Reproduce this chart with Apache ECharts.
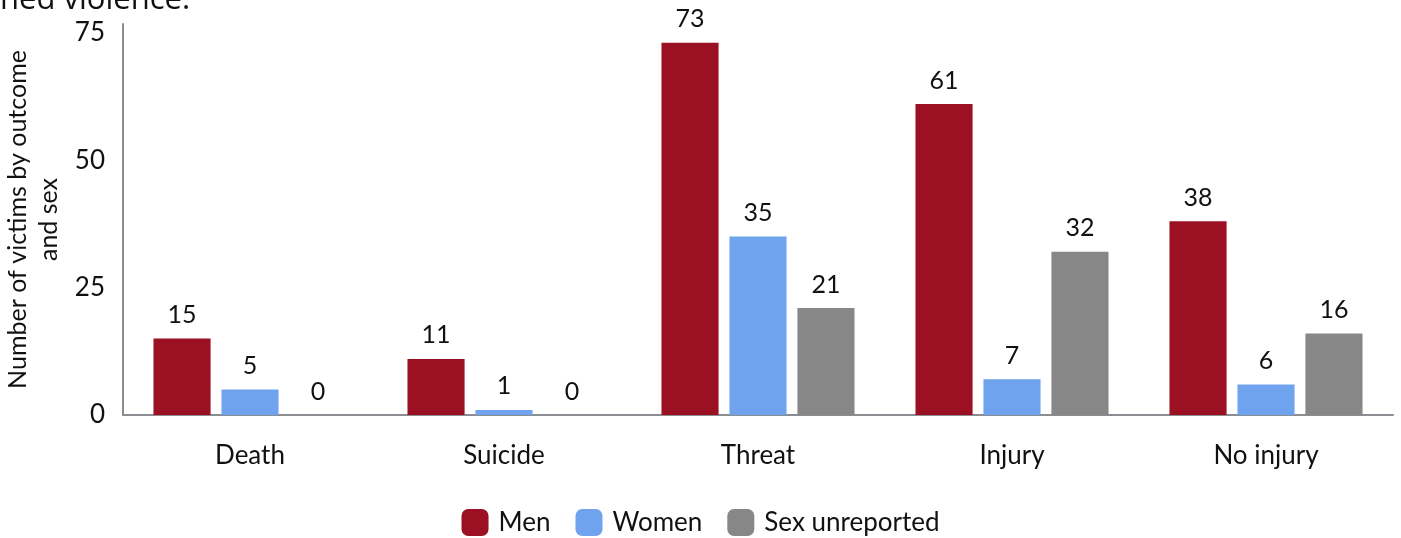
<!DOCTYPE html>
<html><head><meta charset="utf-8">
<script src="https://cdn.jsdelivr.net/npm/echarts@6/dist/echarts.min.js"></script>
<style>html,body{margin:0;padding:0;background:#fff}#c{width:1401px;height:538px}</style>
</head><body><div id="c"></div>
<script>
const categories = ['Death', 'Suicide', 'Threat', 'Injury', 'No injury'];
const men = [15, 11, 73, 61, 38];
const women = [5, 1, 35, 7, 6];
const unreported = [0, 0, 21, 32, 16];
const yTicks = [0, 25, 50, 75];

const chart = echarts.init(document.getElementById('c'));
const font = 'Lato';
function s(name, data, color) {
  return {
    name, type: 'bar', data, barGap: '19%', barCategoryGap: '24%',
    itemStyle: { color },
    label: { show: true, position: 'top', distance: 11, color: '#111', fontSize: 25, fontFamily: font }
  };
}
chart.setOption({
  animation: false,
  textStyle: { fontFamily: font },
  graphic: [{ type: 'text', left: 0, top: -15, style: { text: 'ned violence.', fontSize: 31, fontFamily: 'Open Sans', fill: '#111' } }],
  grid: { left: 123, right: 8, top: 24, bottom: 123, outerBoundsMode: 'none', containLabel: false },
  legend: {
    bottom: -3, left: 'center', itemWidth: 27, itemHeight: 27, itemGap: 25,
    textStyle: { fontSize: 26, color: '#111', fontFamily: font, padding: [0, 0, 0, 5] },
    data: ['Men', 'Women', 'Sex unreported']
  },
  xAxis: {
    type: 'category', data: categories,
    axisLine: { lineStyle: { color: '#8a8d92', width: 2 } },
    axisTick: { show: false },
    axisLabel: { fontSize: 26, color: '#111', margin: 28, fontFamily: font }
  },
  yAxis: {
    type: 'value', min: 0, max: 76.7, interval: 25,
    name: 'Number of victims by outcome\nand sex', nameLocation: 'middle', nameGap: 57,
    nameTextStyle: { fontSize: 25, color: '#111', fontFamily: font, lineHeight: 31 },
    axisLine: { show: true, lineStyle: { color: '#8a8d92', width: 2 } },
    axisTick: { show: false },
    splitLine: { show: false },
    axisLabel: { fontSize: 26, color: '#111', margin: 18, fontFamily: font,
      formatter: v => yTicks.includes(v) ? String(v) : '' }
  },
  series: [s('Men', men, '#9b1022'), s('Women', women, '#70a3ee'), s('Sex unreported', unreported, '#878787')]
});
</script></body></html>
